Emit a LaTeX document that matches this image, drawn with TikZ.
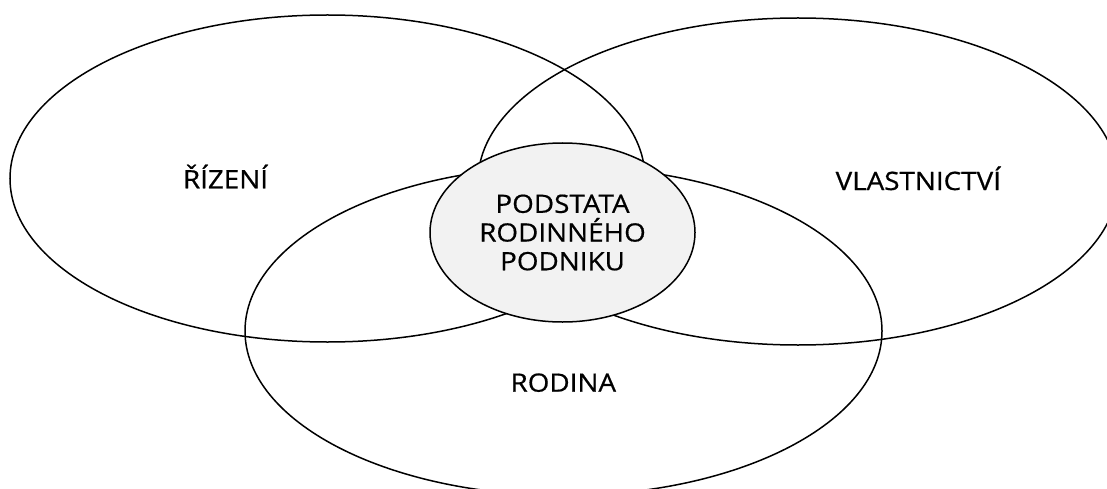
\documentclass[tikz,border=0pt]{standalone}
\usepackage{fontspec}
\setmainfont{Open Sans}[FakeStretch=1.1,FakeBold=0.6]
\usetikzlibrary{shapes.geometric}
\begin{document}
\begin{tikzpicture}[x=1pt,y=-1pt,
  circlebox/.style={ellipse,draw=black,line width=1.5pt,inner sep=0pt},
  label/.style={font=\fontsize{25.3}{28.7}\selectfont,inner sep=0pt,text=black}]
  \useasboundingbox (0,0) rectangle (1107,489);
  \begin{scope}
    \clip (0,0) rectangle (1107,489);
    % three overlapping areas
    \node[circlebox,minimum width=635pt,minimum height=327pt] (rizeni) at (327.5,178.5) {};
    \node[circlebox,minimum width=640pt,minimum height=327pt] (vlastnictvi) at (798,181.5) {};
    \node[circlebox,minimum width=637pt,minimum height=329pt] (rodina) at (563.5,331) {};
    % shared core
    \node[circlebox,fill=black!5,minimum width=265pt,minimum height=179pt] (core) at (562.5,232.5) {};
  \end{scope}
  \node[label,anchor=base] (trizeni) at (225.5,188.3) {ŘÍZENÍ};
  \node[label,anchor=base] (tvlast) at (918.3,190) {VLASTNICTVÍ};
  \node[label,anchor=base] (trodina) at (563.3,391.7) {RODINA};
  \node[label,align=center] (tcore) at (core.center) {PODSTATA\\RODINNÉHO\\PODNIKU};
\end{tikzpicture}
\end{document}
